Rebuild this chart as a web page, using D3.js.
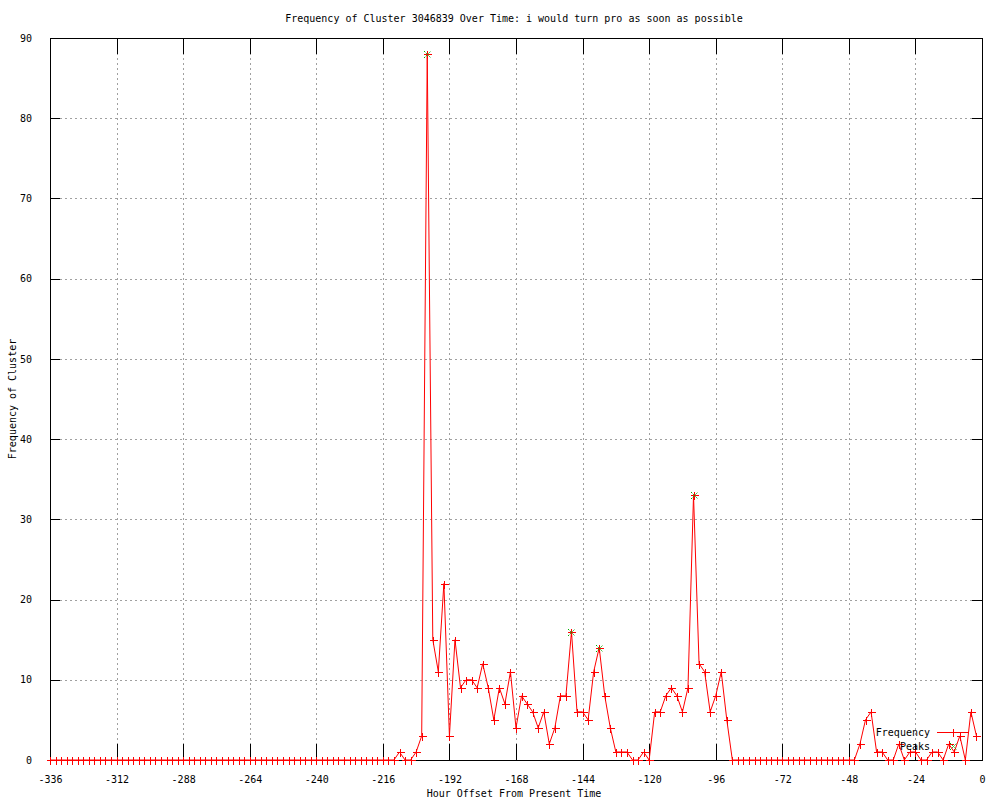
<!DOCTYPE html>
<html>
<head>
<meta charset="utf-8">
<script src="https://cdn.jsdelivr.net/npm/d3@7.9.0/dist/d3.min.js"></script>
<style>
  body { margin: 0; background: #fff; }
  svg { display: block; font-family: "DejaVu Sans Mono", monospace; font-size: 10px; }
  .grid line { stroke: #a0a0a0; stroke-dasharray: 2,3; shape-rendering: crispEdges; }
  .grid path { display: none; }
  .axis path, .axis line { stroke: #000; shape-rendering: crispEdges; }
  .axis text { fill: #000; font-size: 10px; font-family: "DejaVu Sans Mono", monospace; }
</style>
</head>
<body>
<svg id="chart" width="1000" height="800"></svg>
<script>
const title = 'Frequency of Cluster 3046839 Over Time: i would turn pro as soon as possible';
const xLabel = 'Hour Offset From Present Time';
const yLabel = 'Frequency of Cluster';

// hours every 2h from -336 to -2
const hours = d3.range(-336, 0, 2);
const frequency = [
  0,0,0,0,0,0,0,0,0,0, 0,0,0,0,0,0,0,0,0,0,
  0,0,0,0,0,0,0,0,0,0, 0,0,0,0,0,0,0,0,0,0,
  0,0,0,0,0,0,0,0,0,0, 0,0,0,0,0,0,0,0,0,0,
  0,0,0,                       // -336 .. -212
  1,0,0,1,3,88,15,11,22,3,     // -210 .. -192
  15,9,10,10,9,12,9,5,9,7,     // -190 .. -172
  11,4,8,7,6,4,6,2,4,8,        // -170 .. -152
  8,16,6,6,5,11,14,8,4,1,      // -150 .. -132
  1,1,0,0,1,0,6,6,8,9,         // -130 .. -112
  8,6,9,33,12,11,6,8,11,5,     // -110 .. -92
  0,0,0,0,0,0,0,0,0,0,         // -90 .. -72
  0,0,0,0,0,0,0,0,0,0,         // -70 .. -52
  0,0,0,2,5,6,1,1,0,0,         // -50 .. -32
  2,0,1,1,0,0,1,1,0,2,         // -30 .. -12
  1,3,0,6,3                    // -10 .. -2
];

const peakHours = [-200, -148, -138, -104];
const peakValues = [88, 16, 14, 33];

const xTicks = [-336, -312, -288, -264, -240, -216, -192, -168, -144, -120, -96, -72, -48, -24, 0];
const yTicks = [0, 10, 20, 30, 40, 50, 60, 70, 80, 90];

const margin = { left: 50, right: 18, top: 38, bottom: 40 };
const W = 1000, H = 800;
const x0 = margin.left, x1 = W - margin.right, y0 = H - margin.bottom, y1 = margin.top;

const x = d3.scaleLinear().domain([-336, 0]).range([x0, x1]);
const y = d3.scaleLinear().domain([0, 90]).range([y0, y1]);

const svg = d3.select('#chart');

// grid
svg.append('g').attr('class', 'grid')
  .attr('transform', `translate(0,${y0})`)
  .call(d3.axisBottom(x).tickValues(xTicks.slice(1, -1)).tickSize(-(y0 - y1)).tickFormat(''));
svg.append('g').attr('class', 'grid')
  .attr('transform', `translate(${x0},0)`)
  .call(d3.axisLeft(y).tickValues(yTicks.slice(1, -1)).tickSize(-(x1 - x0)).tickFormat(''));

// axes
const fmt = d => String(d);
svg.append('g').attr('class', 'axis')
  .attr('transform', `translate(0,${y0})`)
  .call(d3.axisBottom(x).tickValues(xTicks).tickSize(-16).tickPadding(23).tickFormat(fmt))
  .call(g => g.selectAll('text').attr('dy', '0'));
svg.append('g').attr('class', 'axis')
  .attr('transform', `translate(0,${y1})`)
  .call(d3.axisTop(x).tickValues(xTicks).tickSize(-16).tickFormat(''));
svg.append('g').attr('class', 'axis')
  .attr('transform', `translate(${x0},0)`)
  .call(d3.axisLeft(y).tickValues(yTicks).tickSize(-10).tickPadding(18).tickFormat(fmt));
svg.append('g').attr('class', 'axis')
  .attr('transform', `translate(${x1},0)`)
  .call(d3.axisRight(y).tickValues(yTicks).tickSize(-10).tickFormat(''));

svg.append('rect')
  .attr('x', x0 + 0.5).attr('y', y1 + 0.5)
  .attr('width', x1 - x0).attr('height', y0 - y1)
  .attr('fill', 'none').attr('stroke', '#000').attr('shape-rendering', 'crispEdges');

// data line
const pts = hours.map((h, i) => [h, frequency[i]]);
svg.append('path')
  .datum(pts)
  .attr('d', d3.line().x(d => x(d[0])).y(d => y(d[1])))
  .attr('fill', 'none').attr('stroke', '#ff0000').attr('stroke-width', 1);

const plus = (g, cx, cy, color) => {
  g.append('path')
    .attr('d', `M${cx - 4},${cy}H${cx + 4}M${cx},${cy - 4}V${cy + 4}`)
    .attr('stroke', color).attr('stroke-width', 1).attr('fill', 'none')
    .attr('shape-rendering', 'crispEdges');
};
const cross = (g, cx, cy, color) => {
  g.append('path')
    .attr('d', `M${cx - 3.5},${cy - 3.5}L${cx + 3.5},${cy + 3.5}M${cx - 3.5},${cy + 3.5}L${cx + 3.5},${cy - 3.5}`)
    .attr('stroke', color).attr('stroke-width', 1).attr('fill', 'none')
    .attr('stroke-dasharray', '1.5,1');
};

const markers = svg.append('g');
pts.forEach(d => plus(markers, Math.round(x(d[0])) + 0.5, Math.round(y(d[1])) + 0.5, '#ff0000'));

const peaks = svg.append('g');
peakHours.forEach((h, i) => cross(peaks, Math.round(x(h)) + 0.5, Math.round(y(peakValues[i])) + 0.5, '#00b000'));

// legend
const legend = svg.append('g');
legend.append('text').attr('x', 930).attr('y', 736).attr('text-anchor', 'end').text('Frequency');
legend.append('line').attr('x1', 937).attr('x2', 969).attr('y1', 732.5).attr('y2', 732.5)
  .attr('stroke', '#ff0000').attr('shape-rendering', 'crispEdges');
plus(legend, 953.5, 732.5, '#ff0000');
legend.append('text').attr('x', 930).attr('y', 750).attr('text-anchor', 'end').text('Peaks');
cross(legend, 953.5, 746.5, '#00b000');

// titles
svg.append('text').attr('x', 514).attr('y', 22).attr('text-anchor', 'middle').text(title);
svg.append('text').attr('x', 514).attr('y', 797).attr('text-anchor', 'middle').text(xLabel);
svg.append('text')
  .attr('transform', `translate(16,${(y0 + y1) / 2}) rotate(-90)`)
  .attr('text-anchor', 'middle').text(yLabel);
</script>
</body>
</html>
